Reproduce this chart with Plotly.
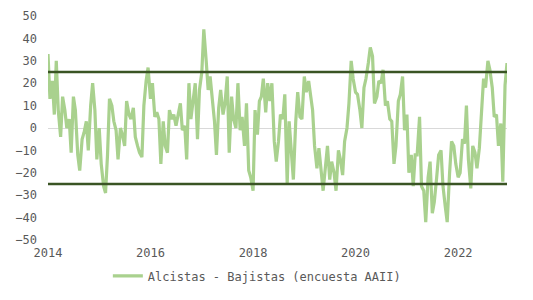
import pandas as pd
import plotly.graph_objects as go

# Semimonthly readings of the bull-bear spread (percentage points)
spread_part1 = [33, 13, 21, 6, 30, 8, -4, 14, 8, 0, 4, -11, 14, 8, -12, -19, -5, -2,
                3, -10, 10, 20, 8, -14, 0, -16, -26, -29, -12, 13, 10, 3, -1, -14, 0, -3]
spread_part2 = [-8, 12, 6, 4, 9, -4, -8, -11, -13, 10, 21, 27, 13, 20, 5, 7, 4, -16,
                3, -8, -11, 8, 4, 6, 1, 6, 11, -1, 1, -14, 20, 4, 12, 20, -5, 17]
spread_part3 = [25, 44, 30, 17, 23, 14, 3, -12, 9, 17, 6, 11, 23, -11, 14, 4, 0, 20,
                -1, 5, -8, 11, -19, -22, -28, 8, -3, 12, 14, 22, 7, 20, 12, 20, -6]
spread_part4 = [-15, -6, 6, 4, 15, -25, 3, -10, -23, 3, 16, 5, 4, 23, 16, 21, 15, 8,
                -8, -18, -9, -18, -28, -17, -8, -23, -15, -20, -28, -10, -14, -21, -6, 0, 11, 30]
spread_part5 = [22, 16, 15, 8, 0, 18, 22, 29, 36, 32, 11, 14, 21, 20, 26, 10, 12, 4,
                3, -16, -8, 12, 15, 23, -1, 6, -20, -12, -26, -12, -12, 5, -26, -28, -42, -22]
spread_part6 = [-15, -38, -33, -22, -12, -10, -26, -35, -42, -20, -6, -8, -16, -22, -20, -5, -7, 10,
                -14, -27, -8, -11, -18, -9, 8, 22, 18, 30, 26, 18, 5, 6, -8, 2, -24, 19, 29]

spread = spread_part1 + spread_part2 + spread_part3 + spread_part4 + spread_part5 + spread_part6
dates = pd.date_range("2014-01-01", periods=len(spread), freq="SMS")

upper_band = 25
lower_band = -25
series_name = "Alcistas - Bajistas (encuesta AAII)"

LIGHT = "#A9D18E"
DARK = "#3A5424"
TXT = "#595959"
FONT = "DejaVu Sans Mono"

fig = go.Figure()
fig.add_trace(go.Scatter(x=dates, y=spread, mode="lines", name=series_name,
                         line=dict(color=LIGHT, width=3.2)))
fig.add_trace(go.Scatter(x=[dates[0], dates[-1]], y=[upper_band, upper_band], mode="lines",
                         line=dict(color=DARK, width=2.5), showlegend=False, hoverinfo="skip"))
fig.add_trace(go.Scatter(x=[dates[0], dates[-1]], y=[lower_band, lower_band], mode="lines",
                         line=dict(color=DARK, width=2.5), showlegend=False, hoverinfo="skip"))

fig.update_layout(
    width=533, height=300,
    margin=dict(l=48, r=26, t=16, b=60, autoexpand=False),
    paper_bgcolor="white", plot_bgcolor="white",
    font=dict(family=FONT, size=12, color=TXT),
    showlegend=True,
    legend=dict(orientation="h", x=0.455, xanchor="center", y=-0.16, yanchor="middle",
                font=dict(family=FONT, size=12, color=TXT)),
)
fig.update_xaxes(range=[dates[0], dates[-1]], tick0="2014-01-01", dtick="M24",
                 tickformat="%Y", showgrid=False, showline=False, zeroline=False,
                 ticks="", ticklabelstandoff=4, tickfont=dict(family=FONT, size=12, color=TXT))
fig.update_yaxes(range=[-50, 50], dtick=10, showgrid=False, showline=False,
                 zeroline=True, zerolinecolor="#D9D9D9", zerolinewidth=1,
                 ticks="", ticklabelstandoff=10, tickfont=dict(family=FONT, size=12, color=TXT))

fig.write_html("out.html")
